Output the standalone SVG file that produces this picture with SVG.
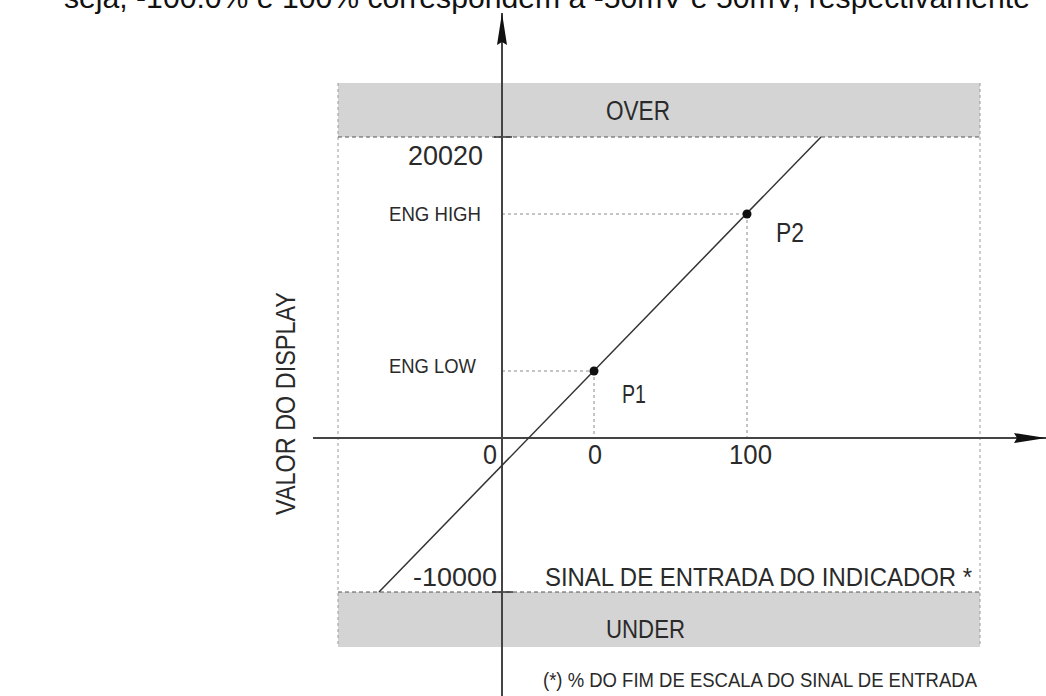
<svg xmlns="http://www.w3.org/2000/svg" width="1046" height="696" viewBox="0 0 1046 696">
  <defs>
    <marker id="arrow" markerUnits="userSpaceOnUse" markerWidth="34" markerHeight="12" refX="32" refY="6" orient="auto">
      <path d="M0,1 L32,6 L0,11 L3,6 z" fill="#111"/>
    </marker>
  </defs>
  <style>
    text { font-family: "Liberation Sans", Arial, sans-serif; fill: #2a2a2a; }
    .band { fill: #d4d4d4; }
    .frame { fill: none; stroke: #9a9a9a; stroke-width: 1; stroke-dasharray: 3 3; }
    .guide { fill: none; stroke: #8a8a8a; stroke-width: 1; stroke-dasharray: 3 3; }
    .limit { fill: none; stroke: #555; stroke-width: 1; stroke-dasharray: 4 3; }
    .axis { fill: none; stroke: #444; stroke-width: 2; }
    .curve { fill: none; stroke: #333; stroke-width: 1.5; }
    .tick { fill: none; stroke: #333; stroke-width: 1.5; }
    .pt { fill: #111; }
  </style>
  <rect width="1046" height="696" fill="#ffffff"/>

  <text x="64" y="8" font-size="30" textLength="966" lengthAdjust="spacingAndGlyphs" style="fill:#111">seja, -100.0% e 100% correspondem a -50mV e 50mV, respectivamente</text>

  <g id="over-band">
    <rect class="band" x="338" y="83" width="642" height="54"/>
    <text x="606" y="120" font-size="27" textLength="64" lengthAdjust="spacingAndGlyphs">OVER</text>
  </g>
  <g id="under-band">
    <rect class="band" x="338" y="592" width="642" height="55"/>
    <text x="606" y="638" font-size="26" textLength="79" lengthAdjust="spacingAndGlyphs">UNDER</text>
  </g>

  <g id="connectors">
    <line class="frame" x1="338" y1="83" x2="338" y2="647"/>
    <line class="frame" x1="980" y1="83" x2="980" y2="647"/>
    <line class="limit" x1="338" y1="137" x2="980" y2="137"/>
    <line class="limit" x1="338" y1="592" x2="980" y2="592"/>
    <line class="guide" x1="502" y1="214" x2="747" y2="214"/>
    <line class="guide" x1="747" y1="214" x2="747" y2="438"/>
    <line class="guide" x1="502" y1="371" x2="594" y2="371"/>
    <line class="guide" x1="594" y1="371" x2="594" y2="438"/>
    <line class="tick" x1="494" y1="137" x2="512" y2="137"/>
    <line class="tick" x1="492" y1="592" x2="513" y2="592"/>
    <line class="axis" x1="502" y1="696" x2="502" y2="13" marker-end="url(#arrow)"/>
    <line class="axis" x1="313" y1="438" x2="1046" y2="438" marker-end="url(#arrow)"/>
    <line class="curve" x1="379" y1="592" x2="821" y2="137"/>
  </g>

  <g id="p1">
    <circle class="pt" cx="594" cy="371" r="4.5"/>
    <text x="622" y="403" font-size="25" textLength="24" lengthAdjust="spacingAndGlyphs">P1</text>
  </g>
  <g id="p2">
    <circle class="pt" cx="747" cy="214" r="4.5"/>
    <text x="776" y="242" font-size="27" textLength="28" lengthAdjust="spacingAndGlyphs">P2</text>
  </g>

  <g id="y-labels">
    <text x="408" y="165" font-size="28" textLength="75" lengthAdjust="spacingAndGlyphs">20020</text>
    <text x="389" y="221" font-size="20" textLength="92" lengthAdjust="spacingAndGlyphs">ENG HIGH</text>
    <text x="389" y="373" font-size="20" textLength="87" lengthAdjust="spacingAndGlyphs">ENG LOW</text>
    <text x="483" y="464" font-size="28" textLength="14" lengthAdjust="spacingAndGlyphs">0</text>
    <text x="413" y="586" font-size="26" textLength="84" lengthAdjust="spacingAndGlyphs">-10000</text>
    <text transform="translate(295,515) rotate(-90)" x="0" y="0" font-size="27" textLength="223" lengthAdjust="spacingAndGlyphs">VALOR DO DISPLAY</text>
  </g>

  <g id="x-labels">
    <text x="588" y="464" font-size="28" textLength="14" lengthAdjust="spacingAndGlyphs">0</text>
    <text x="729" y="464" font-size="28" textLength="43" lengthAdjust="spacingAndGlyphs">100</text>
    <text x="545" y="586" font-size="26" textLength="427" lengthAdjust="spacingAndGlyphs">SINAL DE ENTRADA DO INDICADOR *</text>
    <text x="543" y="687" font-size="20" textLength="434" lengthAdjust="spacingAndGlyphs">(*) % DO FIM DE ESCALA DO SINAL DE ENTRADA</text>
  </g>
</svg>
